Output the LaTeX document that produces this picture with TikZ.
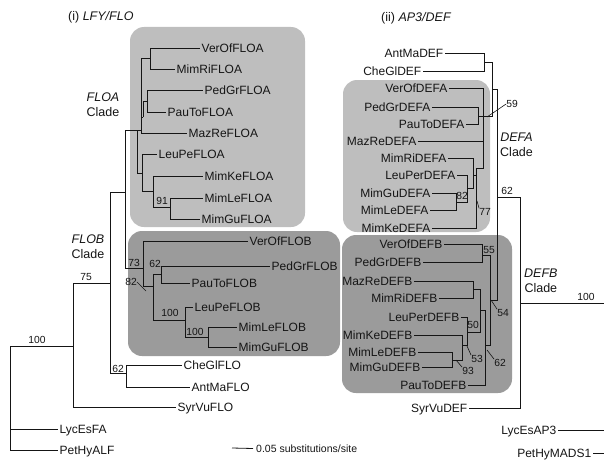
\documentclass[tikz,border=0pt]{standalone}
\usepackage{fontspec}
\setmainfont{Liberation Sans}
\definecolor{lightbox}{HTML}{BEBEBE}
\definecolor{darkbox}{HTML}{9B9B9B}
\definecolor{ink}{HTML}{151515}
\tikzset{
  branch/.style={draw=ink, line width=0.8pt},
  leader/.style={draw=ink, line width=0.6pt},
  leafL/.style={anchor=west, inner xsep=1.5pt, inner ysep=0pt, text height=8.6pt, text depth=0pt, text=ink, font=\fontsize{12}{14}\selectfont},
  leafR/.style={leafL, anchor=east},
  boot/.style={inner sep=0pt, text=ink, font=\fontsize{10.3}{12}\selectfont},
  cladelab/.style={inner sep=0pt, text=ink, align=center, font=\fontsize{12.5}{15}\selectfont},
  titlelab/.style={inner sep=0pt, anchor=west, text=ink, font=\fontsize{12.5}{15}\selectfont},
  boxA/.style={fill=lightbox, rounded corners=14pt},
  boxB/.style={fill=darkbox, rounded corners=14pt},
}
\begin{document}
\begin{tikzpicture}[x=1pt,y=-1pt]
\useasboundingbox (0,0) rectangle (604,460);
% boxes
\fill[boxA] (130,27) rectangle (305,227);
\fill[boxB] (128,231) rectangle (340,356);
\fill[boxA] (343,80) rectangle (490,232);
\fill[boxB] (342,235) rectangle (512,393);

% titles
\node[titlelab] (t1) at (68,17) {(i) \textit{LFY/FLO}};
\node[titlelab] (t2) at (381,18) {(ii) \textit{AP3/DEF}};

% clade labels
\node[cladelab] (cFLOA) at (103,105) {\textit{FLOA}\\Clade};
\node[cladelab] (cFLOB) at (88,247) {\textit{FLOB}\\Clade};
\node[cladelab, anchor=west] (cDEFA) at (500,145) {\textit{DEFA}\\Clade};
\node[cladelab, anchor=west] (cDEFB) at (524,281) {\textit{DEFB}\\Clade};

% ---------- left tree leaves ----------
\node[leafL] (VerOfFLOA) at (200,48) {VerOfFLOA};
\node[leafL] (MimRiFLOA) at (175,69) {MimRiFLOA};
\node[leafL] (PedGrFLOA) at (203,90) {PedGrFLOA};
\node[leafL] (PauToFLOA) at (166,112) {PauToFLOA};
\node[leafL] (MazReFLOA) at (187,133) {MazReFLOA};
\node[leafL] (LeuPeFLOA) at (157,154) {LeuPeFLOA};
\node[leafL] (MimKeFLOA) at (203,176) {MimKeFLOA};
\node[leafL] (MimLeFLOA) at (203,198) {MimLeFLOA};
\node[leafL] (MimGuFLOA) at (200,219) {MimGuFLOA};
\node[leafL] (VerOfFLOB) at (248,241) {VerOfFLOB};
\node[leafL] (PedGrFLOB) at (270,266) {PedGrFLOB};
\node[leafL] (PauToFLOB) at (190,283) {PauToFLOB};
\node[leafL] (LeuPeFLOB) at (193,307) {LeuPeFLOB};
\node[leafL] (MimLeFLOB) at (237,327) {MimLeFLOB};
\node[leafL] (MimGuFLOB) at (237,347) {MimGuFLOB};
\node[leafL] (CheGlFLO) at (182,365) {CheGlFLO};
\node[leafL] (AntMaFLO) at (190,387) {AntMaFLO};
\node[leafL] (SyrVuFLO) at (176,407) {SyrVuFLO};
\node[leafL] (LycEsFA) at (58,429) {LycEsFA};
\node[leafL] (PetHyALF) at (58,450) {PetHyALF};

% ---------- left tree internal nodes ----------
\coordinate (r0) at (10,346);
\coordinate (n75) at (73,346);
\coordinate (n110) at (110,283);
\coordinate (nFF) at (125,192);
\coordinate (nFLOA) at (137,130);
\coordinate (nUp) at (141,130);
\coordinate (nPPa) at (143,117);
\coordinate (nPP) at (147,101);
\coordinate (nVM) at (150,58);
\coordinate (nLow) at (142,173);
\coordinate (nK) at (153,191);
\coordinate (n91) at (170,207);
\coordinate (nFLOB) at (143,268);
\coordinate (n82) at (153,286);
\coordinate (n62) at (161,274);
\coordinate (n100a) at (185,320);
\coordinate (n100b) at (208,337);
\coordinate (nCA) at (126,373);

\draw[branch] (r0) |- (LycEsFA.west);
\draw[branch] (r0) |- (PetHyALF.west);
\draw[branch] (r0) -- (n75);
\draw[branch] (n75) |- (n110);
\draw[branch] (n75) |- (SyrVuFLO.west);
\draw[branch] (n110) |- (nFF);
\draw[branch] (n110) |- (nCA);
\draw[branch] (nCA) |- (CheGlFLO.west);
\draw[branch] (nCA) |- (AntMaFLO.west);
\draw[branch] (nFF) |- (nFLOA);
\draw[branch] (nFF) |- (nFLOB);
\draw[branch] (nFLOA) |- (nUp);
\draw[branch] (nFLOA) |- (nLow);
\draw[branch] (nUp) |- (nVM);
\draw[branch] (nUp) |- (nPPa);
\draw[branch] (nUp) |- (MazReFLOA.west);
\draw[branch] (nPPa) |- (nPP);
\draw[branch] (nPP) |- (PedGrFLOA.west);
\draw[branch] (nPP) |- (PauToFLOA.west);
\draw[branch] (nVM) |- (VerOfFLOA.west);
\draw[branch] (nVM) |- (MimRiFLOA.west);
\draw[branch] (nLow) |- (LeuPeFLOA.west);
\draw[branch] (nLow) |- (nK);
\draw[branch] (nK) |- (MimKeFLOA.west);
\draw[branch] (nK) |- (n91);
\draw[branch] (n91) |- (MimLeFLOA.west);
\draw[branch] (n91) |- (MimGuFLOA.west);
\draw[branch] (nFLOB) |- (VerOfFLOB.west);
\draw[branch] (nFLOB) |- (n82);
\draw[branch] (n82) |- (n62);
\draw[branch] (n82) |- (n100a);
\draw[branch] (n62) |- (PedGrFLOB.west);
\draw[branch] (n62) |- (PauToFLOB.west);
\draw[branch] (n100a) |- (LeuPeFLOB.west);
\draw[branch] (n100a) |- (n100b);
\draw[branch] (n100b) |- (MimLeFLOB.west);
\draw[branch] (n100b) |- (MimGuFLOB.west);

% left support values
\node[boot] (b100L) at (37,340) {100};
\node[boot] (b75) at (86,277) {75};
\node[boot] (b91) at (162,201) {91};
\node[boot] (b73) at (134,263) {73};
\node[boot] (b62L) at (155,264) {62};
\node[boot] (b82L) at (131,282) {82};
\coordinate (l82) at (146,291);
\draw[leader] (b82L.east) -- (l82);
\node[boot] (b100a) at (170,313) {100};
\node[boot] (b100b) at (195,332) {100};
\node[boot] (b62c) at (118,369) {62};

% scale bar
\coordinate (sb1) at (232,448);
\node[anchor=west, inner xsep=3pt, inner ysep=0pt, text=ink, font=\fontsize{10.5}{12}\selectfont] (sbt) at (253,448.5) {0.05 substitutions/site};
\draw[branch] (sb1) -- (sbt.west);

% ---------- right tree leaves ----------
\node[leafR] (AntMaDEF) at (445,53) {AntMaDEF};
\node[leafR] (CheGlDEF) at (423,71) {CheGlDEF};
\node[leafR] (VerOfDEFA) at (449,88) {VerOfDEFA};
\node[leafR] (PedGrDEFA) at (432,107) {PedGrDEFA};
\node[leafR] (PauToDEFA) at (466,124) {PauToDEFA};
\node[leafR] (MazReDEFA) at (418,141) {MazReDEFA};
\node[leafR] (MimRiDEFA) at (448,158) {MimRiDEFA};
\node[leafR] (LeuPerDEFA) at (457,175) {LeuPerDEFA};
\node[leafR] (MimGuDEFA) at (432,193) {MimGuDEFA};
\node[leafR] (MimLeDEFA) at (430,210) {MimLeDEFA};
\node[leafR] (MimKeDEFA) at (432,228) {MimKeDEFA};
\node[leafR] (VerOfDEFB) at (444,244) {VerOfDEFB};
\node[leafR] (PedGrDEFB) at (423,262) {PedGrDEFB};
\node[leafR] (MazReDEFB) at (414,281) {MazReDEFB};
\node[leafR] (MimRiDEFB) at (439,298) {MimRiDEFB};
\node[leafR] (LeuPerDEFB) at (461,317) {LeuPerDEFB};
\node[leafR] (MimKeDEFB) at (414,335) {MimKeDEFB};
\node[leafR] (MimLeDEFB) at (418,352) {MimLeDEFB};
\node[leafR] (MimGuDEFB) at (422,367) {MimGuDEFB};
\node[leafR] (PauToDEFB) at (468,385) {PauToDEFB};
\node[leafR] (SyrVuDEF) at (469,408) {SyrVuDEF};
\node[leafR] (LycEsAP3) at (558,430) {LycEsAP3};
\node[leafR] (PetHyMADS1) at (593,453) {PetHyMADS1};

% ---------- right tree internal nodes ----------
\coordinate (rAC) at (484,62);
\coordinate (r492) at (492,89);
\coordinate (r497) at (497,197);
\coordinate (r520) at (520,303);
\coordinate (rEdge) at (604,303);
\coordinate (eL) at (604,430);
\coordinate (eP) at (604,453);
\coordinate (rDEFA) at (483,116);
\coordinate (rDEFAj) at (492,116);
\coordinate (rPP) at (478,116);
\coordinate (rLowA) at (476,168);
\coordinate (rMR) at (473,175);
\coordinate (rLG) at (467,188);
\coordinate (r82) at (456,202);
\coordinate (rDEFB) at (490,300);
\coordinate (r55) at (482,255);
\coordinate (r62) at (485,345);
\coordinate (r50) at (480,310);
\coordinate (rMM) at (473,289);
\coordinate (r53) at (467,332);
\coordinate (r93) at (462,345);
\coordinate (r93b) at (452,360);

\draw[branch] (r520) -- (rEdge);
\draw[branch] (LycEsAP3.east) -- (eL);
\draw[branch] (PetHyMADS1.east) -- (eP);
\draw[branch] (r520) |- (r497);
\draw[branch] (r520) |- (SyrVuDEF.east);
\draw[branch] (r497) |- (r492);
\draw[branch] (r497) |- (rDEFB);
\draw[branch] (r492) |- (rAC);
\draw[branch] (r492) -- (rDEFAj) -- (rDEFA);
\draw[branch] (rAC) |- (AntMaDEF.east);
\draw[branch] (rAC) |- (CheGlDEF.east);
\draw[branch] (rDEFA) |- (VerOfDEFA.east);
\draw[branch] (rDEFA) |- (rPP);
\draw[branch] (rDEFA) |- (MazReDEFA.east);
\draw[branch] (rDEFA) |- (rLowA);
\draw[branch] (rPP) |- (PedGrDEFA.east);
\draw[branch] (rPP) |- (PauToDEFA.east);
\draw[branch] (rLowA) |- (rMR);
\draw[branch] (rLowA) |- (MimKeDEFA.east);
\draw[branch] (rMR) |- (MimRiDEFA.east);
\draw[branch] (rMR) |- (rLG);
\draw[branch] (rLG) |- (LeuPerDEFA.east);
\draw[branch] (rLG) |- (r82);
\draw[branch] (r82) |- (MimGuDEFA.east);
\draw[branch] (r82) |- (MimLeDEFA.east);
\draw[branch] (rDEFB) |- (r55);
\draw[branch] (rDEFB) |- (r62);
\draw[branch] (r55) |- (VerOfDEFB.east);
\draw[branch] (r55) |- (PedGrDEFB.east);
\draw[branch] (r62) |- (r50);
\draw[branch] (r62) |- (PauToDEFB.east);
\draw[branch] (r50) |- (rMM);
\draw[branch] (r50) |- (r53);
\draw[branch] (rMM) |- (MazReDEFB.east);
\draw[branch] (rMM) |- (MimRiDEFB.east);
\draw[branch] (r53) |- (LeuPerDEFB.east);
\draw[branch] (r53) |- (r93);
\draw[branch] (r93) |- (MimKeDEFB.east);
\draw[branch] (r93) |- (r93b);
\draw[branch] (r93b) |- (MimLeDEFB.east);
\draw[branch] (r93b) |- (MimGuDEFB.east);

% right support values
\node[boot] (b62R) at (507,191) {62};
\node[boot] (b100R) at (586,297) {100};
\node[boot] (b59) at (512,104) {59};
\coordinate (l59) at (487,117);
\draw[leader] (l59) -- (b59.west);
\node[boot] (b82R) at (462,196) {82};
\node[boot] (b77) at (485,212) {77};
\coordinate (l77) at (477,201);
\draw[leader] (l77) -- (b77.north west);
\node[boot] (b55) at (489,250) {55};
\node[boot] (b54) at (503,313) {54};
\coordinate (l54) at (491,300);
\draw[leader] (l54) -- (b54.north west);
\node[boot] (b50) at (473,325) {50};
\node[boot] (b53) at (477,359) {53};
\coordinate (l53) at (467,346);
\draw[leader] (l53) -- (b53.north west);
\node[boot] (b93) at (468,371) {93};
\coordinate (l93) at (456,360);
\draw[leader] (l93) -- (b93.north west);
\node[boot] (b62D) at (500,363) {62};
\coordinate (l62D) at (487,350);
\draw[leader] (l62D) -- (b62D.north west);
\end{tikzpicture}
\end{document}
